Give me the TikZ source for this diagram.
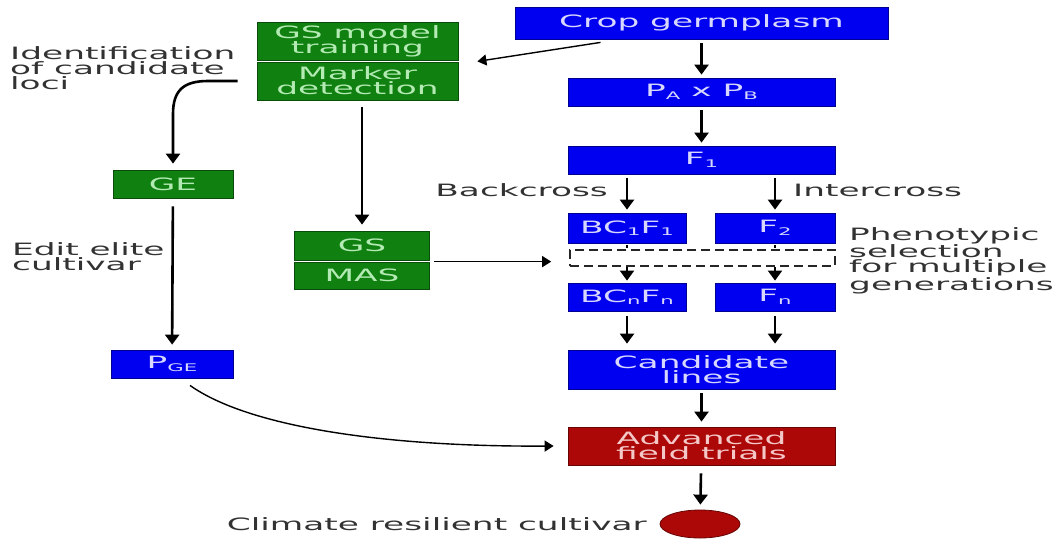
\documentclass[tikz,border=0pt]{standalone}
\usepackage{fontspec}
\setmainfont{DejaVu Sans}[FakeStretch=2.02]
\usetikzlibrary{arrows.meta,shapes.geometric,calc}
\definecolor{bfill}{RGB}{0,0,240}
\definecolor{btext}{RGB}{215,215,255}
\definecolor{gfill}{RGB}{16,128,16}
\definecolor{gtext}{RGB}{180,235,180}
\definecolor{rfill}{RGB}{172,8,8}
\definecolor{rtext}{RGB}{245,200,200}
\definecolor{lbl}{RGB}{50,50,50}
\newcommand\lo[1]{\raisebox{-2.5pt}{\fontsize{10.5}{10}\selectfont #1}}
\begin{document}
\begin{tikzpicture}[x=1pt,y=-1pt,
  box/.style={line width=0.8pt, inner sep=0pt, align=center, font=\fontsize{17}{15}\selectfont},
  bluebox/.style={box, draw=bfill!60!black, fill=bfill, text=btext},
  greenbox/.style={box, draw=gfill!60!black, fill=gfill, text=gtext},
  redbox/.style={box, draw=rfill!60!black, fill=rfill, text=rtext},
  lab/.style={inner sep=0pt, align=left, text=lbl, font=\fontsize{17}{15}\selectfont},
  arr/.style={line width=2.6pt, -{Triangle[width=14pt,length=10pt]}},
  tarr/.style={line width=1.4pt, -{Triangle[width=11pt,length=9pt]}}
]
\useasboundingbox (0,0) rectangle (1056,539);

% right column
\node[bluebox, minimum width=373, minimum height=32] (crop) at (701.5,23) {Crop germplasm};
\node[bluebox, minimum width=267, minimum height=28] (pab) at (701.5,92) {P\lo{A} x P\lo{B}};
\node[bluebox, minimum width=267, minimum height=28] (f1) at (701.5,160) {F\lo{1}};
\node[bluebox, minimum width=118, minimum height=30] (bc1) at (627,228) {BC\lo{1}F\lo{1}};
\node[bluebox, minimum width=120, minimum height=30] (f2) at (775,228) {F\lo{2}};
\node[draw=black!85, dashed, line width=1.6pt, dash pattern=on 9pt off 5pt, minimum width=265, minimum height=16, inner sep=0pt] (dash) at (702.5,258) {};
\node[bluebox, minimum width=118, minimum height=28] (bcn) at (627,297) {BC\lo{n}F\lo{n}};
\node[bluebox, minimum width=120, minimum height=28] (fn) at (775,297) {F\lo{n}};
\node[bluebox, minimum width=267, minimum height=39] (cand) at (701.5,369.5) {Candidate\\lines};
\node[redbox, minimum width=267, minimum height=38] (adv) at (701.5,446) {Advanced\\field trials};
\node[ellipse, draw=rfill!60!black, fill=rfill, line width=0.8pt, minimum width=80, minimum height=28, inner sep=0pt] (res) at (700,524) {};

% middle column
\node[greenbox, minimum width=201, minimum height=38] (gsm) at (357.5,41) {GS model\\training};
\node[greenbox, minimum width=201, minimum height=38] (mkd) at (357.5,81) {Marker\\detection};
\node[greenbox, minimum width=135, minimum height=29] (gs) at (362,245.5) {GS};
\node[greenbox, minimum width=135, minimum height=27] (mas) at (362,275.5) {MAS};

% left column
\node[greenbox, minimum width=120, minimum height=28] (ge) at (173,184) {GE};
\node[bluebox, minimum width=122, minimum height=28] (pge) at (172,364) {P\lo{GE}};

% labels
\node[lab, anchor=north west] (ident) at (10,46) {Identification\\of candidate\\loci};
\node[lab, anchor=north west] (edit) at (12,242) {Edit elite\\cultivar};
\node[lab, anchor=east] (back) at (608,190) {Backcross};
\node[lab, anchor=west] (inter) at (793,190) {Intercross};
\node[lab, anchor=north west] (pheno) at (849,227) {Phenotypic\\selection\\for multiple\\generations};
\node[lab, anchor=east] (clim) at (647,524) {Climate resilient cultivar};

% connectors
\draw[arr, shorten <=4pt, shorten >=3pt] (crop) -- (pab);
\draw[arr, shorten <=4pt, shorten >=3pt] (pab) -- (f1);
\draw[arr, shorten <=4pt, shorten >=3pt] (f1.south -| bc1.north) -- (bc1.north);
\draw[arr, shorten <=4pt, shorten >=3pt] (f1.south -| f2.north) -- (f2.north);
\draw[line width=2pt, dash pattern=on 3pt off 4pt] ([yshift=-2pt]bc1.south) -- (bc1.south |- dash.north);
\draw[line width=2pt, dash pattern=on 3pt off 4pt] ([yshift=-2pt]f2.south) -- (f2.south |- dash.north);
\draw[arr, line width=2pt, shorten >=2pt] (dash.south -| bcn.north) -- (bcn.north);
\draw[arr, line width=2pt, shorten >=2pt] (dash.south -| fn.north) -- (fn.north);
\draw[arr, shorten <=5pt, shorten >=6pt] (bcn.south) -- (bcn.south |- cand.north);
\draw[arr, shorten <=5pt, shorten >=6pt] (fn.south) -- (fn.south |- cand.north);
\draw[arr, shorten <=4pt, shorten >=5pt] (cand) -- (adv);
\draw[arr, shorten <=8pt, shorten >=5pt] (adv) -- (res);
\draw[tarr] ([xshift=-101pt,yshift=-3pt]crop.south) -- ([xshift=19pt,yshift=-1pt]gsm.south east);
\draw[arr, shorten <=7pt, shorten >=6pt] (mkd.south -| gs.north) -- (gs.north);
\draw[tarr] ($(mas.north east)+(4,0)$) -- ($(dash.west |- mas.north)+(-18,0)$);
\draw[arr, shorten <=8pt, shorten >=5pt] (ge) -- (pge);
\draw[arr, shorten >=6pt] ([xshift=-19pt]mkd.west) -- (208,81) .. controls (184,81) and (173,90) .. (173,114) -- (ge.north);
\draw[tarr] ([xshift=18pt,yshift=-7pt]pge.south) .. controls (250,428) and (390,447) .. ([xshift=-14pt]adv.west);
\end{tikzpicture}
\end{document}
